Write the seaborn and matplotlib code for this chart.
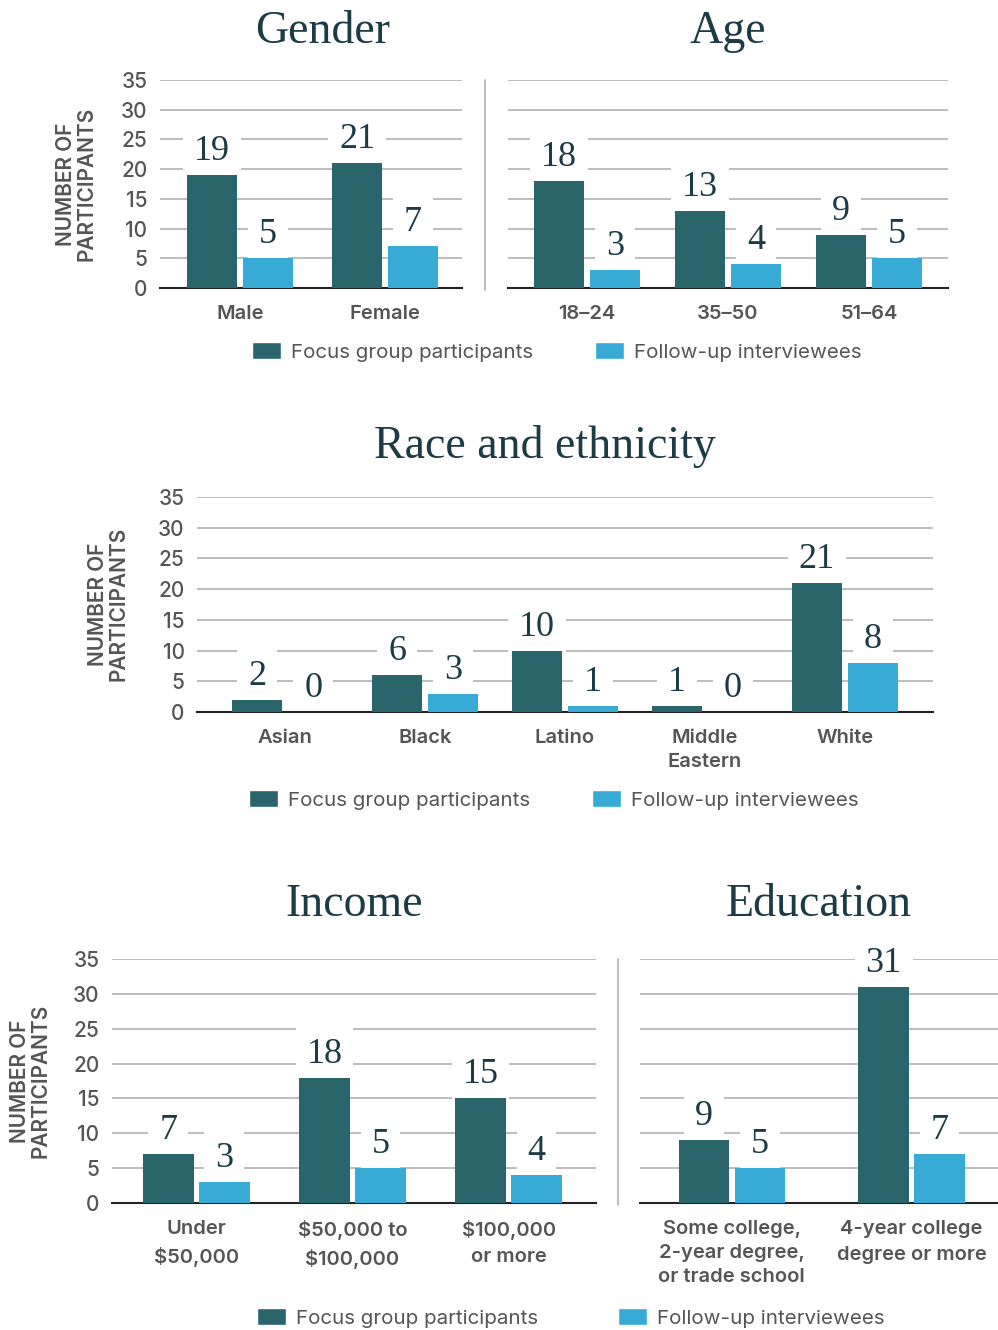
import numpy as np
import pandas as pd
import matplotlib
matplotlib.use("Agg")
import matplotlib.pyplot as plt
import seaborn as sns
from matplotlib.patches import Patch
from matplotlib.lines import Line2D

# --- Data ---
groups = ["Focus group participants", "Follow-up interviewees"]

gender_cats = ["Male", "Female"]
gender_focus = [19, 21]
gender_follow = [5, 7]

age_cats = ["18–24", "35–50", "51–64"]
age_focus = [18, 13, 9]
age_follow = [3, 4, 5]

race_cats = ["Asian", "Black", "Latino", "Middle\nEastern", "White"]
race_focus = [2, 6, 10, 1, 21]
race_follow = [0, 3, 1, 0, 8]

income_cats = ["Under\n$50,000", "$50,000 to\n$100,000", "$100,000\nor more"]
income_focus = [7, 18, 15]
income_follow = [3, 5, 4]

edu_cats = ["Some college,\n2-year degree,\nor trade school", "4-year college\ndegree or more"]
edu_focus = [9, 31]
edu_follow = [5, 7]

y_ticks = [0, 5, 10, 15, 20, 25, 30, 35]

# --- Style ---
TEAL = "#2A656C"
BLUE = "#38AAD6"
TITLE_C = "#1D3B44"
TEXT_C = "#555555"
GRID_C = "#BDBDBD"
SERIF = "Liberation Serif"

W, H = 998, 1330
sns.set_theme(style="white")
plt.rcParams["font.family"] = ["Inter", "DejaVu Sans"]
plt.rcParams["text.parse_math"] = False

fig = plt.figure(figsize=(W / 100, H / 100), dpi=100)


def px_axes(x0, y0, x1, y1):
    return fig.add_axes([x0 / W, 1 - y1 / H, (x1 - x0) / W, (y1 - y0) / H])


def panel(box, cats, focus, follow, xlim, title, title_x=0.5, title_gap=38,
          show_y=True, spacing=1.45):
    ax = px_axes(*box)
    df = pd.DataFrame({
        "cat": cats * 2,
        "group": [groups[0]] * len(cats) + [groups[1]] * len(cats),
        "value": focus + follow,
    })
    ppu = (box[2] - box[0]) / (xlim[1] - xlim[0])
    sns.barplot(data=df, x="cat", y="value", hue="group", palette=[TEAL, BLUE],
                saturation=1, width=112 / ppu, gap=0.1, legend=False, ax=ax,
                zorder=3, linewidth=0, edgecolor="none")
    ax.set_xlim(*xlim)
    ax.set_ylim(0, 35)
    ax.set_yticks(y_ticks)
    ax.set_axisbelow(True)
    ax.yaxis.grid(True, color=GRID_C, lw=1.4)
    ax.xaxis.grid(False)
    for s in ["left", "right", "top"]:
        ax.spines[s].set_visible(False)
    ax.spines["bottom"].set_color("#222222")
    ax.spines["bottom"].set_linewidth(1.5)
    ax.set_xlabel("")
    ax.set_ylabel("")
    ax.tick_params(axis="both", length=0, colors=TEXT_C)
    ax.tick_params(axis="x", pad=12, labelsize=14.5)
    ax.tick_params(axis="y", pad=9, labelsize=15, labelleft=show_y)
    for lab in ax.get_xticklabels():
        lab.set_fontweight("semibold")
        lab.set_linespacing(spacing)
    for lab in ax.get_yticklabels():
        lab.set_fontweight("medium")
    for c in ax.containers:
        ax.bar_label(c, padding=5, fontsize=26, family=SERIF, color=TITLE_C,
                     bbox=dict(boxstyle="square,pad=0.3", fc="white", ec="none"),
                     zorder=2)
    h_px = box[3] - box[1]
    ax.text(title_x, 1 + title_gap / h_px, title, transform=ax.transAxes,
            ha="center", va="baseline", fontsize=33, family=SERIF, color=TITLE_C)
    return ax


def legend(cx, cy, colspace=3.0):
    fig.legend(handles=[Patch(fc=TEAL), Patch(fc=BLUE)], labels=groups,
               loc="center", bbox_to_anchor=(cx / W, 1 - cy / H), ncol=2,
               frameon=False, fontsize=14.8, handlelength=1.4, handleheight=0.85,
               handletextpad=0.5, columnspacing=colspace, labelcolor=TEXT_C)


def ylabel(x, y):
    fig.text(x / W, 1 - y / H, "NUMBER OF\nPARTICIPANTS", rotation=90,
             ha="center", va="center", fontsize=15, fontweight="semibold",
             color=TEXT_C, linespacing=1.0, multialignment="center")


def separator(x, y0, y1):
    fig.add_artist(Line2D([x / W, x / W], [1 - y0 / H, 1 - y1 / H],
                          color=GRID_C, lw=1.4))


# --- Row 1 ---
panel((160, 80, 462, 288), gender_cats, gender_focus, gender_follow,
      (-0.55, 1.53), "Gender", title_x=0.54, title_gap=37)
panel((508, 80, 948, 288), age_cats, age_focus, age_follow,
      (-0.56, 2.56), "Age", title_gap=37, show_y=False)
separator(485, 80, 290)
ylabel(76, 184)
legend(557, 352)

# --- Row 2 ---
panel((197, 497, 933, 712), race_cats, race_focus, race_follow,
      (-0.63, 4.63), "Race and ethnicity", title_x=0.473, title_gap=39)
ylabel(108, 604)
legend(554, 800)

# --- Row 3 ---
panel((112, 959, 596, 1203), income_cats, income_focus, income_follow,
      (-0.54, 2.56), "Income", title_gap=43, spacing=1.6)
ax_edu = panel((640, 959, 998, 1203), edu_cats, edu_focus, edu_follow,
               (-0.51, 1.48), "Education", title_gap=43, show_y=False,
               spacing=1.6)
ax_edu.get_xticklabels()[0].set_linespacing(1.45)
separator(618, 959, 1205)
ylabel(30, 1081)
legend(571, 1318, colspace=3.9)

fig.savefig("out.png", dpi=100)
